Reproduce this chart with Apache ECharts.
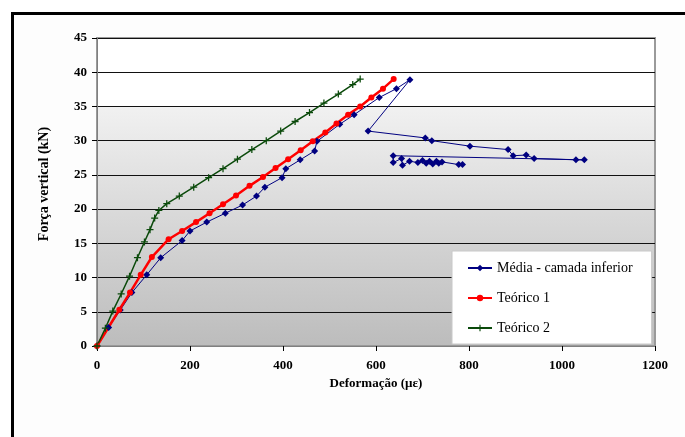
<!DOCTYPE html>
<html>
<head>
<meta charset="utf-8">
<script src="https://cdn.jsdelivr.net/npm/echarts@6/dist/echarts.min.js"></script>
<style>
html,body{margin:0;padding:0;background:#fff;}
#frame{position:absolute;left:11px;top:12px;width:700px;height:460px;border-left:3px solid #000;border-top:3px solid #000;background:#fdfdfd;}
#chart{position:absolute;left:0;top:0;width:685px;height:437px;}
</style>
</head>
<body>
<div id="frame"></div>
<div id="chart"></div>
<script>
// Deformação (µε), Força vertical (kN)
const mediaX = [0, 25, 50, 75, 107, 137, 183, 200, 236, 276, 313, 343, 361, 398, 406, 437, 468, 473, 522, 553, 607, 644, 673,
  583, 706, 720, 802, 884, 895, 923, 940, 1030, 1048,
  637, 637, 655, 657, 672, 690, 700, 708, 715, 722, 730, 735, 742, 778, 786];
const mediaY = [0, 2.7, 5.25, 7.8, 10.4, 12.9, 15.4, 16.8, 18.1, 19.4, 20.6, 21.9, 23.2, 24.6, 25.9, 27.2, 28.5, 29.9, 32.4, 33.8, 36.3, 37.6, 38.9,
  31.4, 30.4, 30.0, 29.2, 28.7, 27.8, 27.9, 27.4, 27.2, 27.2,
  27.8, 26.8, 27.4, 26.4, 27.0, 26.8, 27.1, 26.7, 27.0, 26.6, 27.0, 26.7, 26.9, 26.5, 26.5];

const teo1X = [0, 48, 71, 94, 118, 154, 183, 213, 242, 271, 299, 328, 357, 384, 411, 438, 464, 491, 515, 540, 566, 590, 615, 638];
const teo1Y = [0, 5.3, 7.8, 10.4, 13.0, 15.6, 16.8, 18.1, 19.4, 20.7, 22.0, 23.4, 24.7, 26.0, 27.3, 28.6, 29.9, 31.2, 32.5, 33.8, 35.0, 36.3, 37.6, 39.0];

const teo2X = [0, 18, 34, 52, 70, 87, 102, 114, 124, 133, 150, 177, 208, 240, 271, 302, 333, 364, 395, 426, 457, 488, 519, 550, 566];
const teo2Y = [0, 2.6, 5.1, 7.6, 10.2, 12.9, 15.2, 17.0, 18.7, 19.8, 20.8, 21.9, 23.2, 24.6, 25.9, 27.3, 28.7, 30.0, 31.4, 32.8, 34.1, 35.5, 36.8, 38.2, 39.0];

const seriesNames = ['Média - camada inferior', 'Teórico 1', 'Teórico 2'];
const xTicks = [0, 200, 400, 600, 800, 1000, 1200];
const yTicks = [0, 5, 10, 15, 20, 25, 30, 35, 40, 45];

function pairs(xs, ys) { return xs.map((x, i) => [x, ys[i]]); }

const serif = '"Liberation Serif", "Times New Roman", serif';
const plus = 'path://M-0.18,-1H0.18V1H-0.18Z M-1,-0.18H1V0.18H-1Z';

const chart = echarts.init(document.getElementById('chart'), null, {renderer: 'canvas'});
chart.setOption({
  animation: false,
  backgroundColor: 'transparent',
  grid: {
    left: 97, right: 30, top: 38, bottom: 91,
    show: true,
    borderColor: '#9a9a9a', borderWidth: 2,
    backgroundColor: {
      type: 'linear', x: 0, y: 0, x2: 0, y2: 1,
      colorStops: [
        {offset: 0, color: '#ffffff'},
        {offset: 0.222, color: '#ffffff'},
        {offset: 0.224, color: '#f1f1f1'},
        {offset: 0.5, color: '#dedede'},
        {offset: 1, color: '#bcbcbc'}
      ]
    }
  },
  legend: {
    data: seriesNames,
    orient: 'vertical',
    left: 452, top: 251,
    padding: [9, 19, 8, 15],
    itemWidth: 24, itemHeight: 8, itemGap: 14,
    backgroundColor: '#ffffff',
    borderColor: '#c8c8c8', borderWidth: 1,
    textStyle: {fontFamily: serif, fontSize: 14, color: '#000', lineHeight: 16}
  },
  xAxis: {
    type: 'value', min: xTicks[0], max: xTicks[xTicks.length - 1], interval: 200,
    name: 'Deformação (µε)', nameLocation: 'middle', nameGap: 31,
    nameTextStyle: {fontFamily: serif, fontWeight: 'bold', fontSize: 13, color: '#000'},
    axisLine: {show: true, lineStyle: {color: '#808080', width: 1}},
    axisTick: {show: true, length: 5, lineStyle: {color: '#000'}},
    axisLabel: {fontFamily: serif, fontWeight: 'bold', fontSize: 13, color: '#000', margin: 13,
      formatter: v => String(v)},
    splitLine: {show: false}
  },
  yAxis: {
    type: 'value', min: yTicks[0], max: yTicks[yTicks.length - 1], interval: 5,
    name: 'Força vertical (kN)', nameLocation: 'middle', nameGap: 46,
    nameTextStyle: {fontFamily: serif, fontWeight: 'bold', fontSize: 14, color: '#000', padding: [0, 0, 0, 16]},
    axisLine: {show: true, lineStyle: {color: '#808080', width: 1}},
    axisTick: {show: true, length: 5, lineStyle: {color: '#000'}},
    axisLabel: {fontFamily: serif, fontWeight: 'bold', fontSize: 13, color: '#000', margin: 10,
      formatter: v => String(v)},
    splitLine: {show: true, lineStyle: {color: '#111111', width: 1}}
  },
  series: [
    {
      name: seriesNames[0], type: 'line', data: pairs(mediaX, mediaY),
      symbol: 'diamond', symbolSize: 7,
      lineStyle: {color: '#000080', width: 1},
      itemStyle: {color: '#000080'}
    },
    {
      name: seriesNames[1], type: 'line', data: pairs(teo1X, teo1Y),
      symbol: 'circle', symbolSize: 6,
      lineStyle: {color: '#ff0000', width: 2.5},
      itemStyle: {color: '#ff0000'}
    },
    {
      name: seriesNames[2], type: 'line', data: pairs(teo2X, teo2Y),
      symbol: plus, symbolSize: 7,
      lineStyle: {color: '#0b4a0b', width: 1.5},
      itemStyle: {color: '#0b4a0b'}
    }
  ]
});
</script>
</body>
</html>
